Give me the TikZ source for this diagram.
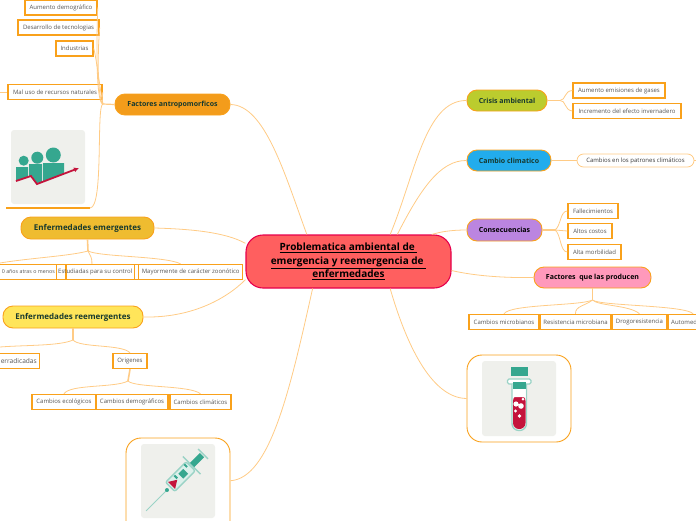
\documentclass[tikz,border=0pt]{standalone}
\usepackage{fontspec}
\setmainfont{Open Sans}
\usetikzlibrary{arrows.meta,positioning}
\definecolor{naranja}{HTML}{F9A11B}
\definecolor{rama}{HTML}{FFCB85}
\definecolor{tinta}{HTML}{17392E}
\definecolor{gris}{HTML}{555555}
\definecolor{fondo}{HTML}{EFF0EC}
\definecolor{teal}{HTML}{35A78F}
\definecolor{tealclaro}{HTML}{9AD3C6}
\definecolor{rojo}{HTML}{C4143C}
\definecolor{cCentral}{HTML}{FF5F5F}
\definecolor{bCentral}{HTML}{E6004C}
\definecolor{cAntro}{HTML}{F39C1B}
\definecolor{cEmerg}{HTML}{EFBC30}
\definecolor{cReem}{HTML}{FFE55A}
\definecolor{cCrisis}{HTML}{BBCC2E}
\definecolor{cCambio}{HTML}{22ACEC}
\definecolor{cConsec}{HTML}{BB85E0}
\definecolor{cProduc}{HTML}{FF99BB}
\tikzset{
  tema/.style={draw=naranja,line width=0.9pt,rounded corners=10pt,inner sep=0pt,
               align=center,font=\fontsize{7}{9}\selectfont\bfseries,text=tinta},
  temagrande/.style={tema,font=\fontsize{8}{10}\selectfont\bfseries},
  hoja/.style={draw=naranja,line width=1.4pt,fill=white,inner sep=0pt,
               minimum height=15pt,text=gris,font=\fontsize{6}{7}\selectfont},
  letra/.style={text=gris,font=\fontsize{6}{7}\selectfont,inner sep=0pt},
  suave/.style={draw=rama,line width=0.8pt,fill=white,rounded corners=6.5pt,inner sep=0pt,
                minimum height=13pt,text=gris!70!black,font=\fontsize{6}{7}\selectfont},
  marco/.style={draw=naranja,line width=0.9pt,fill=white,rounded corners=15pt,inner sep=0pt},
  lamina/.style={fill=fondo,rounded corners=3pt,inner sep=0pt,minimum size=74pt},
  enlace/.style={draw=rama,line width=0.8pt},
  tallo/.style={draw=rama,line width=1.6pt},
}
\begin{document}
\begin{tikzpicture}[x=1pt,y=-1pt]
  \useasboundingbox (0,0) rectangle (696,520);

  % ---------- TEMA CENTRAL ----------
  \node[tema,fill=cCentral,draw=bCentral,line width=1.1pt,rounded corners=17pt,
        minimum width=205pt,minimum height=53pt,text=black,
        font=\fontsize{10}{13.4}\selectfont\bfseries] (central) at (348.5,261.5)
       {\underline{Problematica ambiental de\ }\\
        \underline{emergencia y reemergencia de\ }\\
        \underline{enfermedades}};

  % ---------- TEMAS ----------
  \node[tema,fill=cAntro,minimum width=115pt,minimum height=21pt] (antro) at (172.5,104.5) {Factores antropomorficos};
  \node[temagrande,fill=cEmerg,minimum width=133pt,minimum height=22pt] (emerg) at (87.5,228) {Enfermedades emergentes};
  \node[temagrande,fill=cReem,minimum width=140pt,minimum height=22pt] (reemerg) at (73,317) {Enfermedades reemergentes};
  \node[tema,fill=cCrisis,minimum width=80pt,minimum height=21pt] (crisis) at (507,100.5) {Crisis ambiental};
  \node[tema,fill=cCambio,minimum width=84pt,minimum height=21pt] (cambio) at (509,160.5) {Cambio climatico};
  \node[tema,fill=cConsec,minimum width=75pt,minimum height=22pt,text=black] (consec) at (504.5,230) {Consecuencias};
  \node[tema,fill=cProduc,minimum width=117pt,minimum height=21pt,text=black] (produc) at (592.5,277.5) {Factores\ \ que las producen};

  % ---------- HOJAS ----------
  \node[hoja,minimum width=72pt] (aumento) at (61,7.5) {Aumento demográfico};
  \node[hoja,minimum width=81pt] (desarrollo) at (58.5,27.5) {Desarrollo de tecnologias};
  \node[hoja,minimum width=37pt] (industrias) at (74.5,48.5) {Industrias};
  \node[hoja,minimum width=94pt] (maluso) at (55,92) {Mal uso de recursos naturales};

  \node[hoja,minimum width=75pt,anchor=east] (hace) at (65,272) {};
  \node[hoja,minimum width=9pt,anchor=west] (puenteA) at (56,272) {};
  \node[hoja,minimum width=68pt,anchor=west] (estudio) at (66,272) {};
  \node[hoja,minimum width=4.5pt,anchor=west] (puenteB) at (134,272) {};
  \node[hoja,minimum width=104pt,anchor=west] (zoo) at (138,272) {Mayormente de carácter zoonótico};
  \node[letra,font=\fontsize{5.3}{7}\selectfont,anchor=east] (haceT) at (55,272) {0 años atras o menos};
  \node[letra,anchor=east] (estudioT) at (132.5,272) {Estudiadas para su control};

  \node[hoja,minimum width=60pt,anchor=east] (erradicadas) at (40,361) {};
  \node[letra,font=\fontsize{6.6}{7}\selectfont,anchor=east] (erradicadasT) at (37,361) {erradicadas};
  \node[hoja,minimum width=34pt] (origenes) at (130,361) {Origenes};
  \node[hoja,minimum width=64pt] (ecol) at (64,402) {Cambios ecológicos};
  \node[hoja,minimum width=72pt] (demog) at (132,402) {Cambios demográficos};
  \node[hoja,minimum width=61pt] (clima) at (200.5,402) {Cambios climáticos};

  \node[hoja,minimum width=92pt] (emis) at (619,90.5) {Aumento emisiones de gases};
  \node[hoja,minimum width=108pt] (efecto) at (627,111) {Incremento del efecto invernadero};
  \node[suave,minimum width=117pt] (patron) at (635.5,160.5) {Cambios en los patrones climáticos};
  \node[hoja,minimum width=50pt] (falle) at (593,211) {Fallecimientos};
  \node[hoja,minimum width=44pt] (costos) at (590,231) {Altos costos};
  \node[hoja,minimum width=53pt] (morb) at (594.5,252) {Alta morbilidad};
  \node[hoja,minimum width=70pt] (microb) at (504,322) {Cambios microbianos};
  \node[hoja,minimum width=71pt] (resist) at (575.5,322) {Resistencia microbiana};
  \node[hoja,minimum width=55pt] (droga) at (639.5,322) {Drogoresistencia};
  \node[hoja,minimum width=50pt,anchor=west] (auto) at (667.5,322) {};
  \node[letra,anchor=west] (autoT) at (671,322) {Automed};

  % ---------- IMAGENES ----------
  \node[marco,minimum width=104pt,minimum height=104pt] (marcoJer) at (178,490) {};
  \node[marco,minimum width=104pt,minimum height=87pt] (marcoTubo) at (519,398.5) {};
  \node[lamina] (fotoGente) at (48,167) {};
  \node[lamina] (fotoJer) at (178,481) {};
  \node[lamina,minimum height=75pt] (fotoTubo) at (519,398.5) {};

  % gente y flecha
  \fill[teal] (16,167) -- (28,167) -- (28,177) -- (16,181) -- cycle;
  \fill[teal] (29,164) -- (42,164) -- (42,182) -- (37,183) -- (32,176) -- (29,176) -- cycle;
  \fill[teal] (43,163) -- (64,163) -- (64,174) -- (43,181) -- cycle;
  \fill[teal] (23.7,160.7) circle (5) (37.3,157.7) circle (6) (53.3,155) circle (7.5);
  \draw[rojo,line width=1.8pt,-{Latex[length=5pt,width=5pt]}] (16,181) -- (31,176) -- (37,184) -- (79,168);

  % jeringa
  \begin{scope}[shift={(185,472)},rotate=45]
    \draw[tealclaro,line width=0.8pt] (-55,0) -- (-24,0);
    \fill[teal] (-25.5,0) circle (2);
    \draw[tealclaro,line width=1.4pt,rounded corners=2pt,fill=tealclaro!35] (-21,-6.5) rectangle (8,6.5);
    \fill[teal] (-6,-3.5) rectangle (1,3.5);
    \fill[teal] (4,-6) rectangle (6,-2) (-11,-5) rectangle (-9,-1);
    \fill[rojo] (-19,5) -- (-19,-5) -- (-11,0) -- cycle;
    \draw[tealclaro,line width=1.4pt] (9.5,-12.5) -- (9.5,12.5);
    \fill[teal] (10,-3) rectangle (24,3);
    \draw[tealclaro,line width=1.4pt] (25.5,-7) -- (25.5,7);
  \end{scope}

  % tubo de ensayo
  \fill[teal] (511,367) rectangle (527.5,376);
  \draw[tealclaro,line width=1.2pt,rounded corners=1.5pt,fill=white] (507.5,379) rectangle (531,384);
  \draw[tealclaro,line width=1.4pt,fill=white,rounded corners=7pt] (512,384) -- (512,430.5) -- (526.5,430.5) -- (526.5,384);
  \fill[teal] (513,382) rectangle (525.5,389);
  \fill[rojo,rounded corners=6pt] (513,395) -- (513,429) -- (525.5,429) -- (525.5,395) -- cycle;
  \fill[white] (513,389) rectangle (525.5,397) (516,404) circle (2.6) (521,406) circle (2.8)
               (515.5,411) circle (1.6) (519.5,416) circle (1.8) (523,399) circle (1.5);

  % ---------- UNIONES ----------
  \coordinate (uAntro) at (103,104);
  \coordinate (uEmerg) at (88,251);
  \coordinate (uReem) at (73,340);
  \coordinate (uOrig) at (128,381);
  \coordinate (uCrisis) at (560,100.5);
  \coordinate (uConsec) at (555,230);
  \coordinate (uProduc) at (592.5,300);
  \coordinate (finFoto) at (90,208);
  \coordinate (iniFoto) at (6,208);
  \coordinate (finPatron) at (696,160.5);
  \coordinate (finMal) at (0,92);
  \coordinate (finIzq) at (0,263);
  \coordinate (finErr) at (0,347);

  % ---------- RAMAS DEL CENTRO ----------
  \draw[enlace] (antro.east) .. controls (265,105) and (285,175) .. (central.147);
  \draw[enlace] (emerg.east) .. controls (190,229) and (225,232) .. (central.170);
  \draw[enlace] (reemerg.east) .. controls (190,318) and (225,300) .. (central.190);
  \draw[enlace] (crisis.west) .. controls (425,100) and (415,175) .. (central.33);
  \draw[enlace] (cambio.west) .. controls (440,160) and (420,190) .. (central.29);
  \draw[enlace] (consec.west) .. controls (450,230) and (440,232) .. (central.18);
  \draw[enlace] (produc.west) .. controls (505,278) and (475,276) .. (central.-5);
  \draw[enlace] (marcoJer.10) .. controls (270,478) and (290,390) .. (central.217);
  \draw[enlace] (marcoTubo.west) .. controls (430,398) and (405,340) .. (central.327);

  % ---------- ANTROPOMORFICOS ----------
  \draw[tallo,line width=1.2pt] (antro.west) -- (uAntro);
  \draw[enlace] (finMal) -- (maluso.west);
  \draw[naranja,line width=1.2pt] (iniFoto) -- (finFoto);
  \draw[enlace] (uAntro) .. controls (97,104) and (96,60) .. (aumento.east);
  \draw[enlace] (uAntro) .. controls (98,100) and (97,60) .. (desarrollo.east);
  \draw[enlace] (uAntro) .. controls (100,90) and (96,55) .. (industrias.east);
  \draw[enlace] (uAntro) .. controls (101,100) and (103,95) .. (maluso.east);
  \draw[enlace] (uAntro) .. controls (96,104) and (104,208) .. (finFoto);

  % ---------- EMERGENTES ----------
  \draw[tallo] (emerg.south) -- (uEmerg);
  \draw[enlace] (uEmerg) .. controls (70,256) and (30,258) .. (finIzq);
  \draw[enlace] (uEmerg) .. controls (90,256) and (92,256) .. (estudio.137);
  \draw[enlace] (uEmerg) .. controls (100,257) and (165,256) .. (zoo.141);

  % ---------- REEMERGENTES ----------
  \draw[tallo] (reemerg.south) -- (uReem);
  \draw[enlace] (uReem) .. controls (60,346) and (25,345) .. (finErr);
  \draw[enlace] (uReem) .. controls (80,348) and (122,344) .. (origenes.north);
  \draw[tallo] (origenes.south) -- (uOrig);
  \draw[enlace] (uOrig) .. controls (115,388) and (70,384) .. (ecol.north);
  \draw[enlace] (uOrig) .. controls (135,388) and (190,385) .. (clima.north);

  % ---------- DERECHA ----------
  \draw[tallo,line width=1.2pt] (crisis.east) -- (uCrisis);
  \draw[enlace] (uCrisis) .. controls (566,100) and (564,91) .. (emis.west);
  \draw[enlace] (uCrisis) .. controls (566,100) and (564,110) .. (efecto.west);
  \draw[enlace] (cambio.east) -- (patron.west);
  \draw[enlace] (patron.east) -- (finPatron);
  \draw[tallo,line width=1.2pt] (consec.east) -- (uConsec);
  \draw[enlace] (uConsec) .. controls (561,226) and (560,211) .. (falle.west);
  \draw[enlace] (uConsec) -- (costos.west);
  \draw[enlace] (uConsec) .. controls (561,234) and (560,252) .. (morb.west);
  \draw[tallo] (produc.south) -- (uProduc);
  \draw[enlace] (uProduc) .. controls (580,306) and (510,304) .. (microb.north);
  \draw[enlace] (uProduc) .. controls (585,306) and (575,306) .. (resist.north);
  \draw[enlace] (uProduc) .. controls (598,306) and (630,305) .. (droga.north);
  \draw[enlace] (uProduc) .. controls (600,306) and (685,305) .. (auto.north);

\end{tikzpicture}
\end{document}
